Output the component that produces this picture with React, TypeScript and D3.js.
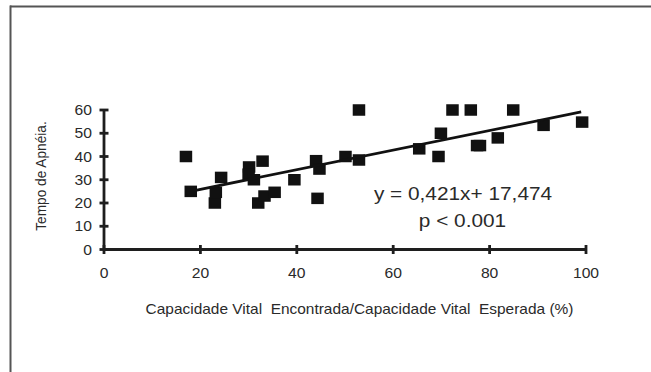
import React from "react";
import * as d3 from "d3";

// Capacidade vital (% do esperado) vs tempo de apneia
const cvPercent = [17, 18, 23, 23.2, 24.3, 30.1, 30, 31.1, 32.9, 32, 33.3, 35.4, 39.5, 44, 44.7, 44.3, 50.1, 52.9, 52.9, 65.4, 69.4, 69.9, 72.3, 76.1, 77.4, 78, 81.7, 84.9, 91.2, 99.2];
const apneia = [40, 25, 20, 24.6, 31, 35.5, 32.4, 30, 38, 20, 23, 24.6, 30, 38.2, 34.6, 22, 40, 60, 38.5, 43.3, 40, 50, 60, 60, 44.7, 44.7, 48, 60, 53.4, 54.8];
const xTicks = [0, 20, 40, 60, 80, 100];
const yTicks = [0, 10, 20, 30, 40, 50, 60];
const slope = 0.421;
const intercept = 17.474;
const fitRange = [19, 99];
const equationLabel = "y = 0,421x+ 17,474";
const pLabel = "p < 0.001";
const xTitle = "Capacidade Vital  Encontrada/Capacidade Vital  Esperada (%)";
const yTitle = "Tempo de Apnéia.";

const W = 651;
const H = 372;
const FONT = "Liberation Sans, Arial, sans-serif";
const SX = 1.12; // horizontal text stretch

export default function App() {
  const x = d3.scaleLinear().domain([0, 100]).range([104, 586]);
  const y = d3.scaleLinear().domain([0, 60]).range([249.5, 110]);
  const axisColor = "#1e1e1e";
  const textColor = "#2a2a2a";

  const fitLine = d3
    .line<number>()
    .x((d) => x(d))
    .y((d) => y(slope * d + intercept));

  const sq = { w: 12.5, h: 11.5 };

  return (
    <svg
      width={W}
      height={H}
      style={{ position: "absolute", left: 0, top: 0, background: "#fff" }}
    >
      {/* frame */}
      <line x1={10} y1={6.5} x2={W} y2={6.5} stroke="#555" strokeWidth={2} />
      <line x1={10.5} y1={5.5} x2={10.5} y2={H} stroke="#555" strokeWidth={2} />

      {/* axes */}
      <line x1={x(0)} y1={y(0)} x2={x(100)} y2={y(0)} stroke={axisColor} strokeWidth={2.8} />
      <line x1={x(0)} y1={y(0)} x2={x(0)} y2={y(60)} stroke={axisColor} strokeWidth={2.8} />
      {xTicks.map((t) => (
        <g key={"xt" + t}>
          <line x1={x(t)} x2={x(t)} y1={y(0) - 4.5} y2={y(0) + 4.5} stroke={axisColor} strokeWidth={2.8} />
          <text
            transform={`translate(${x(t)},${278}) scale(${SX},1)`}
            textAnchor="middle"
            fontFamily={FONT}
            fontSize={14}
            fill={textColor}
          >
            {t}
          </text>
        </g>
      ))}
      {yTicks.map((t) => (
        <g key={"yt" + t}>
          <line x1={x(0) - 4.5} x2={x(0) + 4.5} y1={y(t)} y2={y(t)} stroke={axisColor} strokeWidth={2.8} />
          <text
            transform={`translate(${92},${y(t) + 5}) scale(${SX},1)`}
            textAnchor="end"
            fontFamily={FONT}
            fontSize={14}
            fill={textColor}
          >
            {t}
          </text>
        </g>
      ))}

      {/* points */}
      {cvPercent.map((cv, i) => (
        <rect
          key={"p" + i}
          x={x(cv) - sq.w / 2}
          y={y(apneia[i]) - sq.h / 2}
          width={sq.w}
          height={sq.h}
          fill="#111"
        />
      ))}

      {/* regression line */}
      <path d={fitLine(fitRange) || ""} stroke="#111" strokeWidth={2.8} fill="none" />

      {/* equation */}
      <text
        transform={`translate(${463},${200}) scale(${SX},1)`}
        textAnchor="middle"
        fontFamily={FONT}
        fontSize={18.6}
        fill={textColor}
      >
        {equationLabel}
      </text>
      <text
        transform={`translate(${462.5},${226.5}) scale(${SX},1)`}
        textAnchor="middle"
        fontFamily={FONT}
        fontSize={18.6}
        fill={textColor}
      >
        {pLabel}
      </text>

      {/* axis titles */}
      <text
        transform={`translate(${359.5},${313.5}) scale(${SX},1)`}
        textAnchor="middle"
        fontFamily={FONT}
        fontSize={13.8}
        fill={textColor}
        style={{ whiteSpace: "pre" }}
      >
        {xTitle}
      </text>
      <text
        transform={`translate(${46},${176}) scale(${SX},1) rotate(-90)`}
        textAnchor="middle"
        fontFamily={FONT}
        fontSize={13.7}
        fill={textColor}
      >
        {yTitle}
      </text>
    </svg>
  );
}
